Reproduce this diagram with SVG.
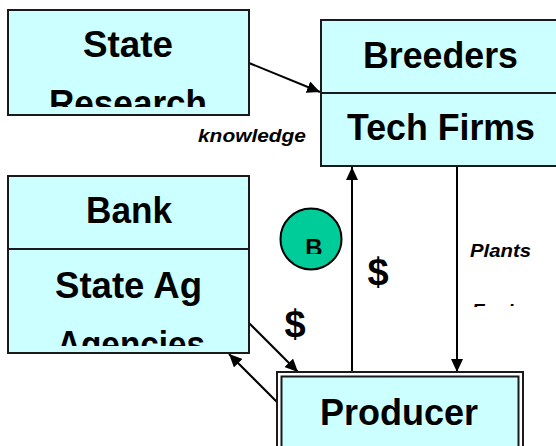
<svg xmlns="http://www.w3.org/2000/svg" width="556" height="446" viewBox="0 0 556 446">
<style>
.box{fill:#CCFFFF;stroke:#1a1a1a;stroke-width:2}
.lbl{font-family:"Liberation Sans",Arial,sans-serif;font-weight:bold;font-size:36px;fill:#000;text-anchor:middle}
.it{font-family:"Liberation Sans",Arial,sans-serif;font-weight:bold;font-style:italic;font-size:19px;fill:#000}
.dol{font-family:"Liberation Sans",Arial,sans-serif;font-weight:bold;font-size:38px;fill:#000;text-anchor:middle}
.con{stroke:#000;stroke-width:2;fill:none;marker-end:url(#ah)}
</style>
<defs>
<marker id="ah" markerUnits="userSpaceOnUse" markerWidth="14" markerHeight="12" refX="13" refY="6" orient="auto">
<path d="M0,0 L13,6 L0,12 Z" fill="#000"/>
</marker>
<clipPath id="cResearch"><rect x="8" y="10" width="241" height="97"/></clipPath>
<clipPath id="cAg"><rect x="8" y="249" width="241" height="97"/></clipPath>
<clipPath id="cB"><rect x="280" y="208" width="62" height="46"/></clipPath>
<clipPath id="cPlants"><rect x="462" y="230" width="94" height="77"/></clipPath>
</defs>
<rect width="556" height="446" fill="#fff"/>

<g id="connectors">
<line class="con" x1="249" y1="63" x2="320" y2="92"/>
<line class="con" x1="352" y1="372" x2="352" y2="167"/>
<line class="con" x1="457" y1="166" x2="457" y2="372"/>
<line class="con" x1="249" y1="323" x2="298" y2="372"/>
<line class="con" x1="280" y1="405" x2="229" y2="354"/>
</g>

<g id="state-research">
<rect class="box" x="8" y="10" width="241" height="105"/>
<text class="lbl" x="128" y="57" textLength="90" lengthAdjust="spacingAndGlyphs">State</text>
<g clip-path="url(#cResearch)"><text class="lbl" x="128" y="116" textLength="158" lengthAdjust="spacingAndGlyphs">Research</text></g>
</g>

<g id="breeders">
<rect class="box" x="321" y="20" width="245" height="146"/>
<line x1="321" y1="93" x2="566" y2="93" stroke="#1a1a1a" stroke-width="2"/>
<text class="lbl" x="440.5" y="68" textLength="155" lengthAdjust="spacingAndGlyphs">Breeders</text>
<text class="lbl" x="441" y="140" textLength="188" lengthAdjust="spacingAndGlyphs">Tech Firms</text>
</g>

<g id="bank">
<rect class="box" x="8" y="176" width="241" height="177"/>
<line x1="8" y1="249" x2="249" y2="249" stroke="#1a1a1a" stroke-width="2"/>
<text class="lbl" x="129" y="223" textLength="86" lengthAdjust="spacingAndGlyphs">Bank</text>
<text class="lbl" x="128.5" y="298" textLength="147" lengthAdjust="spacingAndGlyphs">State Ag</text>
<g clip-path="url(#cAg)"><text class="lbl" x="131" y="357" textLength="148" lengthAdjust="spacingAndGlyphs">Agencies</text></g>
</g>

<g id="producer">
<rect x="277" y="372" width="246" height="90" fill="#fff" stroke="#1a1a1a" stroke-width="2"/>
<rect class="box" x="281.5" y="376.5" width="237" height="90" stroke-width="2.5"/>
<text class="lbl" x="399" y="425" textLength="158" lengthAdjust="spacingAndGlyphs">Producer</text>
</g>

<g id="b-circle">
<circle cx="311" cy="239" r="30.5" fill="#00CC99" stroke="#000" stroke-width="2"/>
<g clip-path="url(#cB)"><text x="314" y="256" font-family="'Liberation Sans',Arial,sans-serif" font-weight="bold" font-size="24" text-anchor="middle" fill="#000">B</text></g>
</g>

<g id="labels">
<text class="it" x="198" y="142" textLength="108" lengthAdjust="spacingAndGlyphs">knowledge</text>
<g clip-path="url(#cPlants)">
<text class="it" x="470" y="257" textLength="61" lengthAdjust="spacingAndGlyphs">Plants</text>
<text class="it" x="472" y="317">Equip</text>
</g>
<text class="dol" x="378" y="285">$</text>
<text class="dol" x="295" y="337">$</text>
</g>
</svg>
